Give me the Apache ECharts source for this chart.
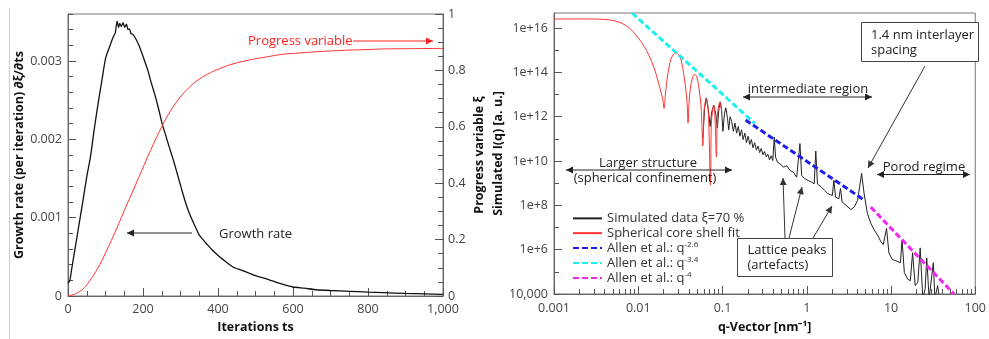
<!DOCTYPE html>
<html>
<head>
<meta charset="utf-8">
<script src="https://cdn.jsdelivr.net/npm/echarts@6/dist/echarts.min.js"></script>
<style>
  html, body { margin: 0; background: #fff; }
  #chart { width: 989px; height: 339px; }
</style>
</head>
<body>
<div id="chart"></div>
<script>
// ---- left panel: growth rate and progress variable vs iterations ----
const growthIter = [0, 5, 10, 20, 30, 40, 50, 60, 70, 80, 90, 100, 110, 120, 126, 131, 135, 138, 142, 147, 151, 156, 160, 164, 168, 173, 180, 191, 200, 213, 222, 231, 241, 251, 260, 270, 280, 289, 302, 313, 324, 338, 351, 360, 369, 386, 404, 420, 440, 462, 484, 506, 529, 565, 600, 630, 662, 700, 751, 800, 840, 900, 950, 1000];
const growthVal = [0.00016, 0.0002, 0.00035, 0.00064, 0.00093, 0.00122, 0.00152, 0.00178, 0.00213, 0.00245, 0.00274, 0.00303, 0.00317, 0.0033, 0.00336, 0.00351, 0.00343, 0.00348, 0.00344, 0.00349, 0.00343, 0.00347, 0.0034, 0.00341, 0.00335, 0.00334, 0.00329, 0.00318, 0.00306, 0.00288, 0.00272, 0.00258, 0.0024, 0.0022, 0.00206, 0.0019, 0.00175, 0.0016, 0.00138, 0.0012, 0.00105, 0.0009, 0.00077, 0.00072, 0.00067, 0.00058, 0.0005, 0.00044, 0.00037, 0.00033, 0.00029, 0.00025, 0.00022, 0.00016, 0.000115, 0.0001, 0.00008, 0.00007, 0.00006, 0.00005, 0.000043, 0.000033, 0.000027, 0.000021];

const progIter = [0, 20, 40, 53, 70, 85, 102, 120, 138, 155, 173, 196, 220, 251, 275, 298, 325, 351, 380, 404, 440, 484, 530, 573, 620, 662, 700, 751, 800, 840, 900, 1000];
const progVal = [0, 0.008, 0.025, 0.045, 0.078, 0.112, 0.158, 0.21, 0.265, 0.318, 0.372, 0.443, 0.516, 0.603, 0.66, 0.703, 0.742, 0.77, 0.792, 0.806, 0.823, 0.837, 0.848, 0.857, 0.862, 0.866, 0.869, 0.872, 0.874, 0.876, 0.877, 0.878];

// ---- right panel: scattering curve, stored as log10(q) and log10(I) ----
const simLogQ = [-1.233, -1.213, -1.193, -1.17, -1.147, -1.128, -1.104, -1.081, -1.061, -1.042, -1.026, -1.011, -0.995, -0.976, -0.96, -0.941, -0.926, -0.91, -0.891, -0.871, -0.852, -0.833, -0.813, -0.794, -0.774, -0.755, -0.735, -0.716, -0.696, -0.677, -0.657, -0.638, -0.618, -0.598, -0.579, -0.559, -0.54, -0.52, -0.501, -0.481, -0.462, -0.442, -0.423, -0.403, -0.386, -0.37, -0.347, -0.316, -0.277, -0.237, -0.198, -0.159, -0.12, -0.081, -0.061, -0.022, 0.017, 0.056, 0.088, 0.107, 0.127, 0.174, 0.213, 0.252, 0.303, 0.322, 0.342, 0.381, 0.4, 0.42, 0.467, 0.525, 0.564, 0.603, 0.651, 0.681, 0.72, 0.76, 0.799, 0.838, 0.877, 0.908, 0.947, 0.975, 1.014, 1.072, 1.111, 1.131, 1.158, 1.197, 1.229, 1.256, 1.287, 1.318, 1.346, 1.377, 1.405, 1.424, 1.452, 1.502, 1.521, 1.553, 1.58];
const simLogI = [11.04, 12.37, 12.85, 12.37, 11.56, 12.23, 12.52, 12.15, 11.49, 12.37, 12.67, 12.3, 11.34, 12.15, 12.4, 11.93, 11.41, 12.0, 11.78, 11.34, 11.71, 11.26, 11.56, 11.12, 11.41, 10.97, 11.26, 10.83, 11.12, 10.75, 10.97, 10.6, 10.83, 10.49, 10.68, 10.38, 10.57, 10.28, 10.43, 10.19, 10.31, 10.05, 10.24, 10.02, 11.08, 10.17, 9.94, 9.87, 9.72, 9.79, 9.57, 9.5, 9.27, 10.79, 9.35, 9.2, 9.12, 9.05, 8.97, 10.45, 8.97, 8.82, 8.67, 8.52, 8.45, 9.13, 8.37, 8.3, 8.76, 8.15, 8.0, 7.81, 7.93, 8.22, 9.44, 8.52, 7.63, 7.19, 6.9, 6.67, 6.38, 6.23, 6.96, 5.85, 5.56, 5.48, 5.41, 6.44, 4.97, 4.67, 4.6, 5.86, 4.38, 4.53, 6.08, 3.8, 4.23, 5.63, 3.8, 5.41, 3.8, 4.38, 3.7];

const fitLogQ = [-3.0, -2.6, -2.4, -2.3, -2.191, -2.1, -1.995, -1.93, -1.878, -1.8, -1.741, -1.71, -1.694, -1.68, -1.663, -1.624, -1.59, -1.553, -1.52, -1.488, -1.441, -1.42, -1.409, -1.398, -1.382, -1.355, -1.33, -1.305, -1.284, -1.255, -1.233, -1.222, -1.213, -1.19, -1.167, -1.143, -1.135, -1.128, -1.104, -1.089, -1.073, -1.065, -1.057, -1.03, -1.01];
const fitLogI = [16.41, 16.41, 16.39, 16.34, 16.21, 15.98, 15.54, 15.17, 14.81, 14.07, 13.26, 12.8, 12.37, 12.9, 13.55, 14.44, 14.78, 14.88, 14.78, 14.51, 13.4, 12.6, 11.71, 12.6, 13.26, 13.78, 13.92, 13.78, 13.4, 12.5, 10.68, 12.0, 12.52, 12.81, 12.08, 8.91, 11.3, 11.93, 12.52, 11.93, 10.19, 11.6, 12.23, 12.67, 12.23];

// power-law guides: [log10 q, log10 I] at both ends
const allen26 = [[-0.726, 11.85], [0.681, 8.24]];
const allen34 = [[-2.073, 16.68], [-0.616, 11.7]];
const allen40 = [[0.76, 7.92], [1.748, 4.0]];

const qLabels = { '-3': '0.001', '-2': '0.01', '-1': '0.1', '0': '1', '1': '10', '2': '100' };
const legendNames = ['Simulated data ξ=70 %', 'Spherical core shell fit', 'Allen et al.: q^-2.6', 'Allen et al.: q^-3.4', 'Allen et al.: q^-4'];

const FONT = 'Open Sans';
const labelStyle = { color: '#444', fontFamily: FONT, fontSize: 12.5 };
const nameStyle = { color: '#111', fontFamily: FONT, fontSize: 12.5, fontWeight: 'bold' };
const tickColor = { color: '#555' };

// minor log ticks at 2..9 in every decade
const minorQ = [];
for (let d = -3; d < 2; d++) for (let k = 2; k <= 9; k++) minorQ.push(d + Math.log10(k));

function zip(xs, ys) { return xs.map((x, i) => [x, ys[i]]); }

function head(x1, y1, x2, y2, color) {
  const a = Math.atan2(y2 - y1, x2 - x1), L = 7, W = 3.5;
  const bx = x2 - L * Math.cos(a), by = y2 - L * Math.sin(a);
  return {
    type: 'polygon', z: 100,
    shape: { points: [[x2, y2], [bx + W * Math.sin(a), by - W * Math.cos(a)], [bx - W * Math.sin(a), by + W * Math.cos(a)]] },
    style: { fill: color }
  };
}
function arrow(x1, y1, x2, y2, color, both) {
  const els = [{ type: 'line', z: 100, shape: { x1, y1, x2, y2 }, style: { stroke: color, lineWidth: 1 } }, head(x1, y1, x2, y2, color)];
  if (both) els.push(head(x2, y2, x1, y1, color));
  return els;
}
function label(text, x, y, color, align) {
  return {
    type: 'text', z: 100, x, y,
    style: { text, fill: color || '#222', font: '13px "Open Sans"', align: align || 'center', verticalAlign: 'middle', lineHeight: 15 }
  };
}
function box(x, y, w, h) {
  return { type: 'rect', z: 99, shape: { x, y, width: w, height: h }, style: { fill: '#fff', stroke: '#444', lineWidth: 1 } };
}

const graphics = [
  { type: 'line', shape: { x1: 9.5, y1: 8, x2: 9.5, y2: 339 }, style: { stroke: '#ccc', lineWidth: 1 } },
  label('Progress variable', 248, 41, '#f22', 'left'),
  ...arrow(353, 41, 433, 41, '#f22'),
  label('Growth rate', 219, 234, '#222', 'left'),
  ...arrow(192, 233, 127, 233, '#222'),

  box(861.5, 22.5, 117, 39),
  label('1.4 nm interlayer\nspacing', 871, 43, '#222', 'left'),
  ...arrow(925, 66, 868, 168, '#333'),
  label('intermediate region', 808, 89),
  ...arrow(743, 97, 872, 97, '#222', true),
  label('Larger structure', 648, 163),
  label('(spherical confinement)', 645, 178),
  ...arrow(566, 170, 732, 170, '#222', true),
  label('Porod regime', 924, 167),
  ...arrow(877, 174.5, 970, 174.5, '#222', true),
  box(737.5, 238.5, 95, 38),
  label('Lattice peaks\n(artefacts)', 747.5, 258, '#222', 'left'),
  ...arrow(785, 238, 783, 178, '#333'),
  ...arrow(789, 238, 802, 187, '#333'),
  ...arrow(813, 238, 832, 206, '#333')
];

const chart = echarts.init(document.getElementById('chart'));
chart.setOption({
  animation: false,
  textStyle: { fontFamily: FONT },
  grid: [
    { left: 68, right: 546, top: 14, bottom: 43, show: true, borderColor: '#777', borderWidth: 1 },
    { left: 554, right: 8, top: 13, bottom: 40, show: true, borderColor: '#777', borderWidth: 1 }
  ],
  xAxis: [
    {
      gridIndex: 0, type: 'value', min: 0, max: 1000, interval: 200,
      name: 'Iterations ts', nameLocation: 'middle', nameGap: 25, nameTextStyle: nameStyle,
      axisLine: { onZero: false, lineStyle: { color: '#666' } },
      axisTick: { inside: true, length: 8, lineStyle: tickColor },
      minorTick: { show: true, splitNumber: 4, length: 5, lineStyle: tickColor },
      axisLabel: { ...labelStyle, margin: 7 }, splitLine: { show: false }
    },
    {
      gridIndex: 1, type: 'value', min: -3, max: 2, interval: 1,
      name: 'q-Vector [nm⁻¹]', nameLocation: 'middle', nameGap: 27, nameTextStyle: nameStyle,
      axisLine: { onZero: false, lineStyle: { color: '#666' } },
      axisTick: { inside: true, length: 8, lineStyle: tickColor },
      axisLabel: { ...labelStyle, margin: 8, formatter: v => qLabels[String(Math.round(v))] },
      splitLine: { show: false }
    },
    {
      gridIndex: 1, type: 'value', min: -3, max: 2, position: 'bottom',
      axisLine: { show: false, onZero: false }, axisLabel: { show: false }, splitLine: { show: false },
      axisTick: { inside: true, length: 5, customValues: minorQ, lineStyle: tickColor }
    }
  ],
  yAxis: [
    {
      gridIndex: 0, type: 'value', min: 0, max: 0.0036, position: 'left',
      name: 'Growth rate (per iteration) ∂ξ/∂ts', nameLocation: 'middle', nameGap: 37, nameTextStyle: nameStyle,
      axisLine: { show: true, onZero: false, lineStyle: { color: '#666' } },
      axisTick: { inside: true, length: 8, customValues: [0, 0.001, 0.002, 0.003], lineStyle: tickColor },
      axisLabel: { ...labelStyle, margin: 6, customValues: [0, 0.001, 0.002, 0.003] },
      splitLine: { show: false }
    },
    {
      gridIndex: 0, type: 'value', min: 0, max: 0.0036, interval: 0.0002, position: 'left',
      axisLine: { show: false, onZero: false }, axisLabel: { show: false }, splitLine: { show: false },
      axisTick: { show: true, inside: true, length: 5, lineStyle: tickColor }
    },
    {
      gridIndex: 0, type: 'value', min: 0, max: 1, interval: 0.2, position: 'right',
      name: 'Progress variable ξ', nameLocation: 'middle', nameGap: 30, nameRotate: 90, nameTextStyle: nameStyle,
      axisLine: { show: true, onZero: false, lineStyle: { color: '#666' } },
      axisTick: { inside: true, length: 8, lineStyle: tickColor },
      minorTick: { show: true, splitNumber: 4, length: 5, lineStyle: tickColor },
      axisLabel: { ...labelStyle, margin: 5 }, splitLine: { show: false }
    },
    {
      gridIndex: 1, type: 'value', min: 4, max: 16.68, position: 'left',
      name: 'Simulated I(q) [a. u.]', nameLocation: 'middle', nameGap: 42, nameTextStyle: nameStyle,
      axisLine: { show: true, onZero: false, lineStyle: { color: '#666' } },
      axisTick: { inside: true, length: 8, customValues: [4, 6, 8, 10, 12, 14, 16], lineStyle: tickColor },
      axisLabel: { ...labelStyle, margin: 6, customValues: [4, 6, 8, 10, 12, 14, 16], formatter: v => v === 4 ? '10,000' : '1e+' + v },
      splitLine: { show: false }
    },
    {
      gridIndex: 1, type: 'value', min: 4, max: 16.68, position: 'left',
      axisLine: { show: false, onZero: false }, axisLabel: { show: false }, splitLine: { show: false },
      axisTick: { inside: true, length: 5, customValues: [5, 7, 9, 11, 13, 15], lineStyle: tickColor }
    }
  ],
  legend: {
    orient: 'vertical', left: 567, top: 206, itemWidth: 29, itemHeight: 10, itemGap: 0,
    data: legendNames,
    itemStyle: { opacity: 0 },
    formatter: n => n.replace(/\^(.+)$/, '{sup|$1}'),
    textStyle: {
      color: '#333', fontFamily: FONT, fontSize: 13, lineHeight: 14.75,
      rich: { sup: { fontSize: 8, verticalAlign: 'top', lineHeight: 14.75, padding: [0, 0, 7, 0] } }
    }
  },
  graphic: graphics,
  series: [
    {
      name: 'Growth rate', type: 'line', xAxisIndex: 0, yAxisIndex: 0, symbol: 'none', smooth: 0.2,
      data: zip(growthIter, growthVal), lineStyle: { color: '#111', width: 1.3 }, itemStyle: { color: '#111' }
    },
    {
      name: 'Progress variable', type: 'line', xAxisIndex: 0, yAxisIndex: 2, symbol: 'none', smooth: 0.4,
      data: zip(progIter, progVal), lineStyle: { color: '#f33', width: 1 }, itemStyle: { color: '#f33' }
    },
    {
      name: legendNames[0], type: 'line', xAxisIndex: 1, yAxisIndex: 3, symbol: 'none',
      data: zip(simLogQ, simLogI), lineStyle: { color: '#222', width: 1 }, itemStyle: { color: '#222' }
    },
    {
      name: legendNames[1], type: 'line', xAxisIndex: 1, yAxisIndex: 3, symbol: 'none', smooth: 0.35,
      data: zip(fitLogQ, fitLogI), lineStyle: { color: '#f33', width: 1 }, itemStyle: { color: '#f33' }
    },
    {
      name: legendNames[2], type: 'line', xAxisIndex: 1, yAxisIndex: 3, symbol: 'none',
      data: allen26, lineStyle: { color: '#1d1df0', width: 3, type: [6, 3] }, itemStyle: { color: '#1d1df0' }
    },
    {
      name: legendNames[3], type: 'line', xAxisIndex: 1, yAxisIndex: 3, symbol: 'none',
      data: allen34, lineStyle: { color: '#1ef0f0', width: 3, type: [6, 3] }, itemStyle: { color: '#1ef0f0' }
    },
    {
      name: legendNames[4], type: 'line', xAxisIndex: 1, yAxisIndex: 3, symbol: 'none',
      data: allen40, lineStyle: { color: '#f028f0', width: 3, type: [6, 3] }, itemStyle: { color: '#f028f0' }
    }
  ]
});
</script>
</body>
</html>
